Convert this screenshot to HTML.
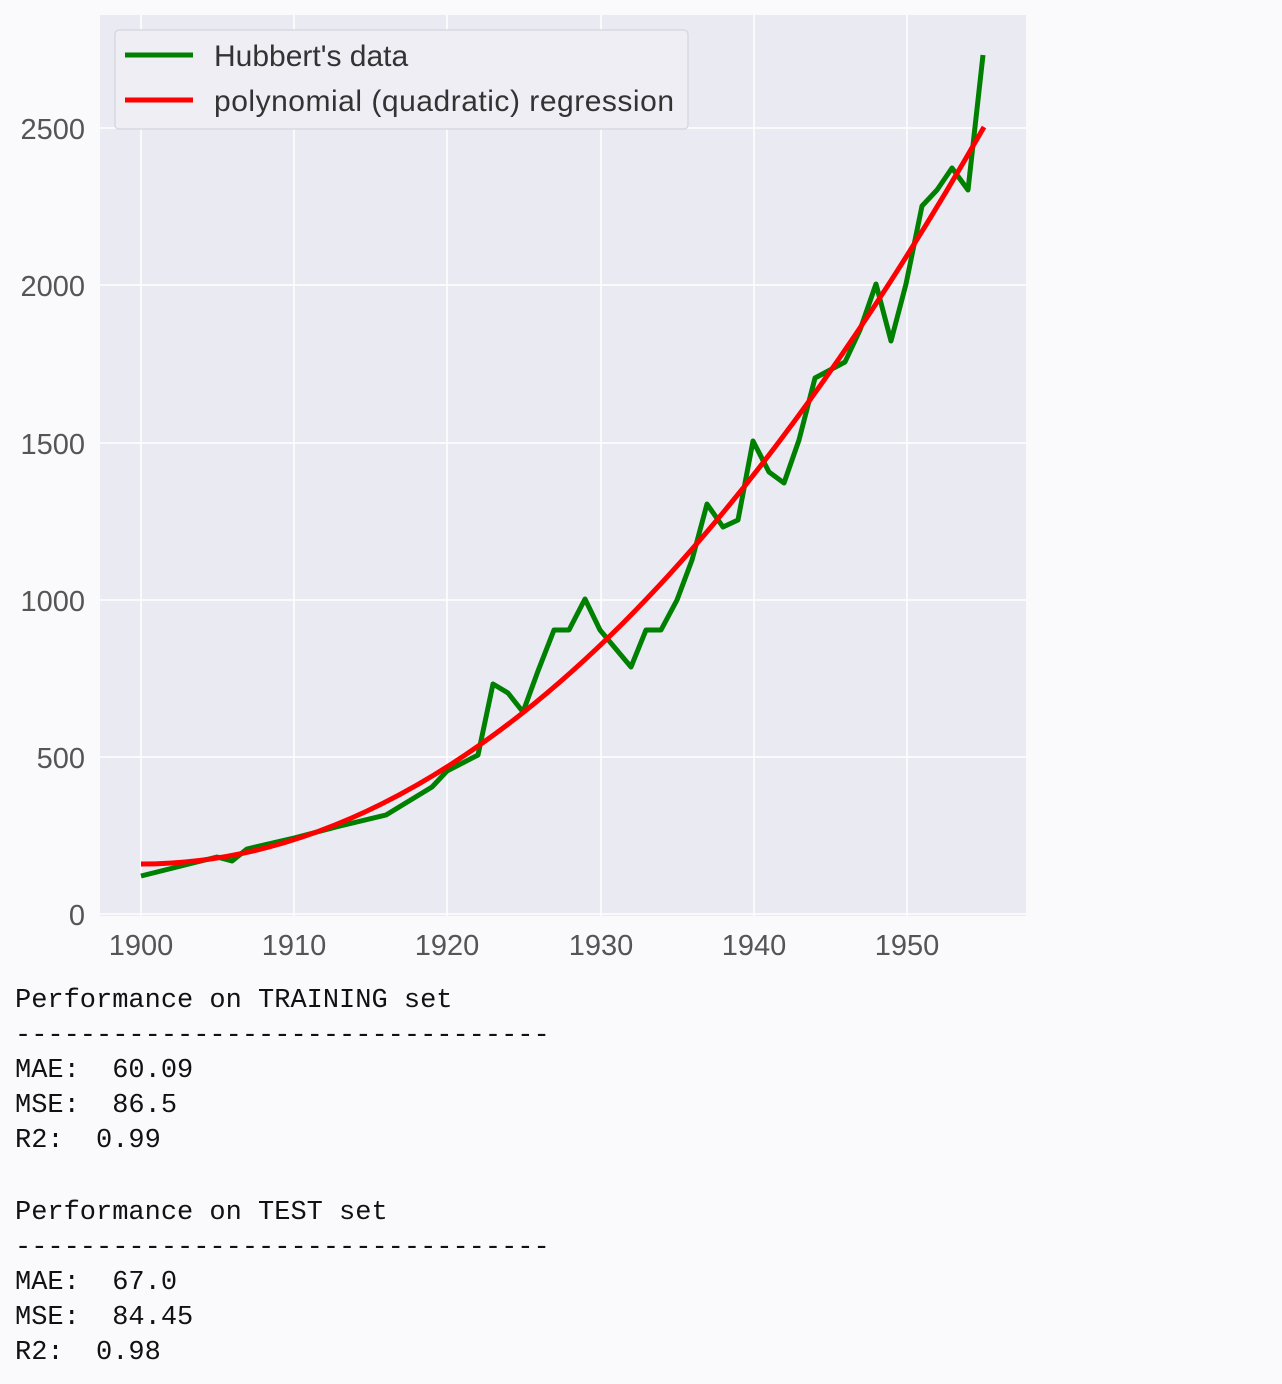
<!DOCTYPE html>
<html><head><meta charset="utf-8"><style>
html,body{margin:0;padding:0;background:#fafafc;width:1282px;height:1384px;overflow:hidden}
pre{position:absolute;left:15px;margin:0;font-family:"Liberation Mono",monospace;font-size:27px;line-height:35px;color:#111}
</style></head><body>
<svg width="1282" height="970" style="position:absolute;left:0;top:0" font-family="Liberation Sans, sans-serif">
<rect x="100" y="15" width="926" height="901" fill="#eaeaf2"/>
<g stroke="#fff" stroke-width="1.5">
<line x1="141" y1="15" x2="141" y2="916"/><line x1="294" y1="15" x2="294" y2="916"/>
<line x1="447" y1="15" x2="447" y2="916"/><line x1="601" y1="15" x2="601" y2="916"/>
<line x1="754" y1="15" x2="754" y2="916"/><line x1="907" y1="15" x2="907" y2="916"/>
<line x1="100" y1="914" x2="1026" y2="914"/><line x1="100" y1="757" x2="1026" y2="757"/>
<line x1="100" y1="600" x2="1026" y2="600"/><line x1="100" y1="443" x2="1026" y2="443"/>
<line x1="100" y1="285" x2="1026" y2="285"/><line x1="100" y1="128" x2="1026" y2="128"/>
</g>
<g fill="#555" font-size="29" text-anchor="end">
<text x="85" y="925">0</text><text x="85" y="768">500</text><text x="85" y="611">1000</text>
<text x="85" y="454">1500</text><text x="85" y="296">2000</text><text x="85" y="139">2500</text>
</g>
<g fill="#555" font-size="29" text-anchor="middle">
<text x="141" y="955">1900</text><text x="294" y="955">1910</text><text x="447" y="955">1920</text>
<text x="601" y="955">1930</text><text x="754" y="955">1940</text><text x="907" y="955">1950</text>
</g>
<polyline fill="none" stroke="#008000" stroke-width="5" stroke-linejoin="round" points="141,876 217,857 232,861 247,849 294,838 340,826 386,815 432,787 447,771 478,755 493,684 508,693 523,712 538,671 554,630 569,630 585,599 600,630 631,667 646,630 661,630 677,600 692,560 707,504 723,527 738,520 753,441 769,472 784,483 799,440 815,378 830,370 845,362 860,330 876,284 891,341 906,284 922,206 937,190 952,168 968,190 983,55"/>
<path d="M141,864 Q562.5,864 984,127" fill="none" stroke="#ff0000" stroke-width="5"/>
<rect x="115" y="30" width="573" height="99" rx="4" fill="#eeeef4" stroke="#d4d4dc" stroke-width="1.2"/>
<line x1="125" y1="55" x2="193" y2="55" stroke="#008000" stroke-width="5"/>
<line x1="125" y1="100" x2="193" y2="100" stroke="#ff0000" stroke-width="5"/>
<text x="214" y="66" font-size="30" fill="#333">Hubbert's data</text>
<text x="214" y="111" font-size="30" fill="#333" textLength="460">polynomial (quadratic) regression</text>
</svg>
<pre style="top:984px">Performance on TRAINING set
---------------------------------
MAE:  60.09
MSE:  86.5
R2:  0.99</pre>
<pre style="top:1196px">Performance on TEST set
---------------------------------
MAE:  67.0
MSE:  84.45
R2:  0.98</pre>
</body></html>
